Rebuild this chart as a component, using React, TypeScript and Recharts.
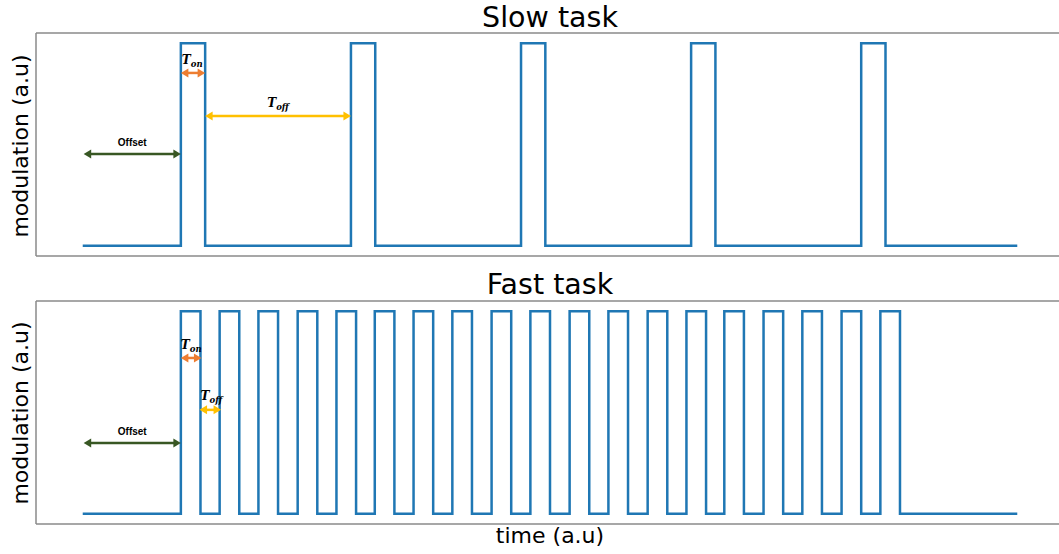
import React from 'react';
import { LineChart, Line, XAxis, YAxis, ReferenceLine } from 'recharts';

// time axis in arbitrary units, 0 = start of trace, 100 = end
const traceStart = 0;
const traceEnd = 100;

// slow task: pulse onsets and on-duration
const slowOnsets = [10.5, 28.7, 46.9, 65.1, 83.3];
const slowOn = 2.6;

// fast task: pulse onsets and on-duration
const fastOnsets = [
  10.5, 14.65, 18.8, 23.0, 27.15, 31.25, 35.4, 39.55, 43.75, 47.9,
  52.1, 56.25, 60.45, 64.6, 68.65, 72.85, 77.0, 81.2, 85.35
];
const fastOn = 2.1;

const lowLevel = 0;
const highLevel = 1;

const blue = '#1f77b4';
const frame = '#8a8a8a';
const green = '#385723';
const orange = '#ED7D31';
const gold = '#FFC000';

type Pt = { t: number; v: number };

function buildTrace(onsets: number[], width: number): Pt[] {
  const pts: Pt[] = [{ t: traceStart, v: lowLevel }];
  onsets.forEach((on) => {
    pts.push({ t: on, v: lowLevel });
    pts.push({ t: on, v: highLevel });
    pts.push({ t: on + width, v: highLevel });
    pts.push({ t: on + width, v: lowLevel });
  });
  pts.push({ t: traceEnd, v: lowLevel });
  return pts;
}

const slowData = buildTrace(slowOnsets, slowOn);
const fastData = buildTrace(fastOnsets, fastOn);

function arrowShape(color: string, label: React.ReactNode, dy: number, dx = 0, anchor = 'middle') {
  return (p: any) => {
    const { x1, y1, x2 } = p;
    const h = 7.5;
    const w = 4.5;
    const mid = (x1 + x2) / 2;
    return (
      <g>
        <line x1={x1 + h - 1} y1={y1} x2={x2 - h + 1} y2={y1} stroke={color} strokeWidth={2.5} />
        <polygon points={`${x1},${y1} ${x1 + h},${y1 - w} ${x1 + h},${y1 + w}`} fill={color} />
        <polygon points={`${x2},${y1} ${x2 - h},${y1 - w} ${x2 - h},${y1 + w}`} fill={color} />
        <g transform={`translate(${anchor === 'middle' ? mid + dx : x1 + dx},${y1 - dy})`}>{label}</g>
      </g>
    );
  };
}

const offsetLabel = (
  <text x={0} y={0} textAnchor="middle" fontFamily="'Liberation Sans', Arial, sans-serif" fontWeight="bold" fontSize={10} fill="#000">
    Offset
  </text>
);

function tLabel(sub: string, anchor: 'middle' | 'start') {
  return (
    <text x={0} y={0} textAnchor={anchor} fontFamily="'DejaVu Serif', serif" fontStyle="italic" fontWeight="bold" fontSize={12} fill="#000">
      T
      <tspan fontSize={8.5} dy={3.5}>{sub}</tspan>
    </text>
  );
}

const domainX: [number, number] = [-5, 105];
const domainY: [number, number] = [-0.05, 1.05];

function Panel({ data, children }: { data: Pt[]; children?: React.ReactNode }) {
  return (
    <LineChart width={1070} height={270} data={data} margin={{ top: 33, left: 36, right: 6, bottom: 14 }}>
      <XAxis dataKey="t" type="number" domain={domainX} allowDataOverflow hide />
      <YAxis type="number" domain={domainY} allowDataOverflow hide />
      {/* frame: top, bottom and left spines (right one falls outside the picture) */}
      <ReferenceLine y={domainY[1]} stroke={frame} strokeWidth={1.5} ifOverflow="visible" />
      <ReferenceLine y={domainY[0]} stroke={frame} strokeWidth={1.5} ifOverflow="visible" />
      <ReferenceLine x={domainX[0]} stroke={frame} strokeWidth={1.5} ifOverflow="visible" />
      <Line type="linear" dataKey="v" stroke={blue} strokeWidth={2.5} dot={false} isAnimationActive={false} />
      {children}
    </LineChart>
  );
}

const textBase: React.CSSProperties = {
  position: 'absolute',
  fontFamily: "'DejaVu Sans', sans-serif",
  color: '#000',
  whiteSpace: 'nowrap',
  textAlign: 'center'
};

function YLabel({ cy }: { cy: number }) {
  return (
    <div style={{ ...textBase, fontSize: 22, lineHeight: '22px', width: 260, left: 20.5 - 130, top: cy - 11, transform: 'rotate(-90deg)' }}>
      modulation (a.u)
    </div>
  );
}

export default function App() {
  return (
    <div style={{ position: 'absolute', left: 0, top: 0, width: 1059, height: 554, overflow: 'hidden', background: '#fff' }}>
      <div style={{ ...textBase, fontSize: 28.5, lineHeight: '28px', left: 350, width: 400, top: 4 }}>Slow task</div>
      <div style={{ ...textBase, fontSize: 28.5, lineHeight: '28px', left: 350, width: 400, top: 271 }}>Fast task</div>
      <div style={{ ...textBase, fontSize: 22, lineHeight: '22px', left: 400, width: 300, top: 525 }}>time (a.u)</div>
      <YLabel cy={146} />
      <YLabel cy={413} />

      <div style={{ position: 'absolute', left: 0, top: 0 }}>
        <Panel data={slowData}>
          <ReferenceLine segment={[{ x: 0.1, y: 0.453 }, { x: 10.5, y: 0.453 }]} shape={arrowShape(green, offsetLabel, 8)} />
          <ReferenceLine segment={[{ x: 10.5, y: 0.853 }, { x: 13.1, y: 0.853 }]} shape={arrowShape(orange, tLabel('on', 'start'), 9, 1, 'start')} />
          <ReferenceLine segment={[{ x: 13.1, y: 0.641 }, { x: 28.7, y: 0.641 }]} shape={arrowShape(gold, tLabel('off', 'middle'), 9)} />
        </Panel>
      </div>

      <div style={{ position: 'absolute', left: 0, top: 268 }}>
        <Panel data={fastData}>
          <ReferenceLine segment={[{ x: 0.1, y: 0.35 }, { x: 10.5, y: 0.35 }]} shape={arrowShape(green, offsetLabel, 8)} />
          <ReferenceLine segment={[{ x: 10.5, y: 0.769 }, { x: 12.7, y: 0.769 }]} shape={arrowShape(orange, tLabel('on', 'start'), 9, 0, 'start')} />
          <ReferenceLine segment={[{ x: 12.5, y: 0.513 }, { x: 14.8, y: 0.513 }]} shape={arrowShape(gold, tLabel('off', 'start'), 10, 1, 'start')} />
        </Panel>
      </div>
    </div>
  );
}
